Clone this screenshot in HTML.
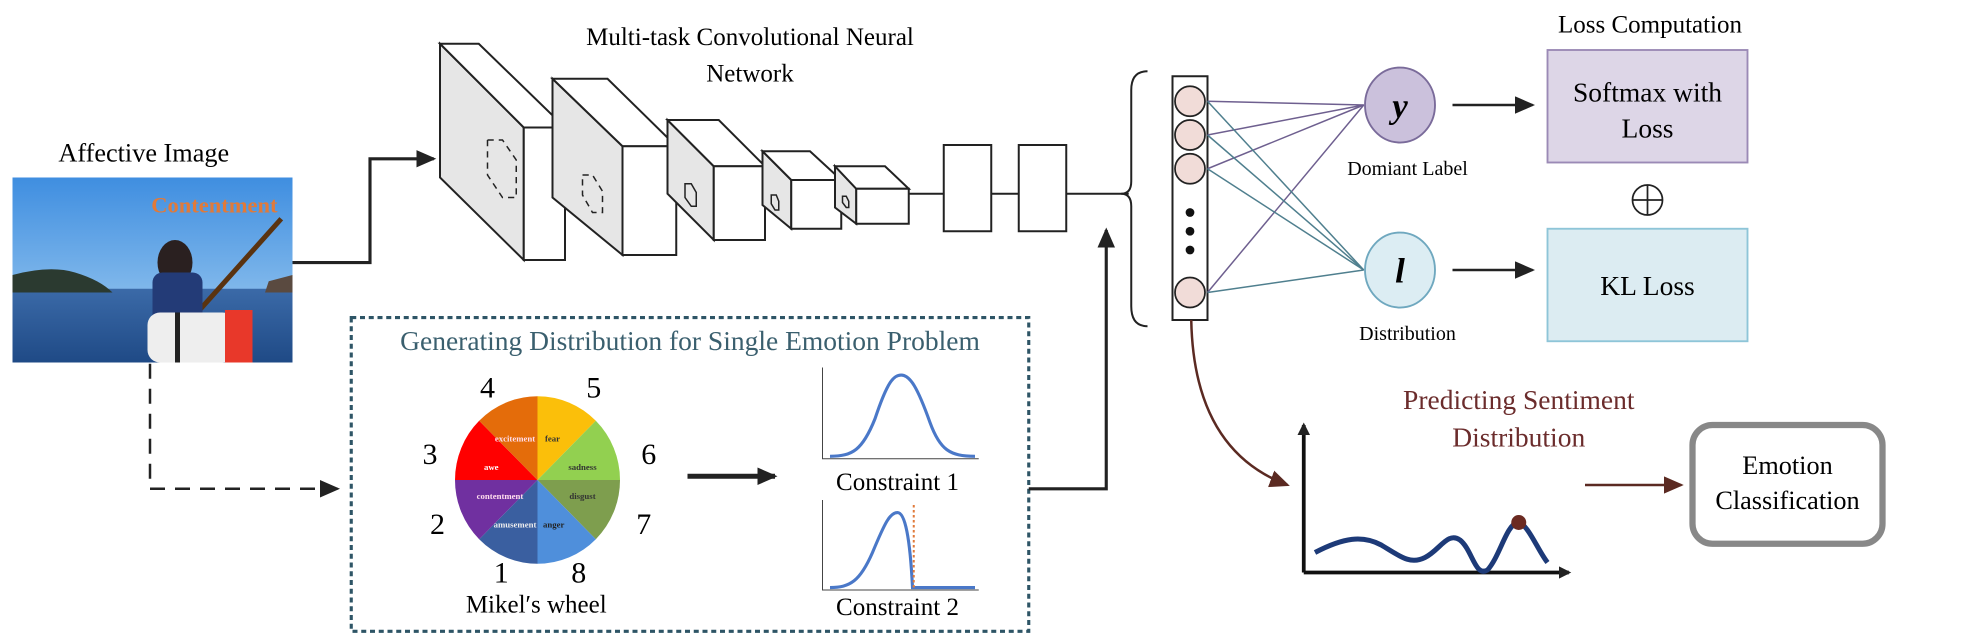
<!DOCTYPE html>
<html><head><meta charset="utf-8"><style>
html,body{margin:0;padding:0;background:#fff;overflow:hidden;}
svg{display:block;}
text{font-family:"Liberation Serif",serif;}
</style></head><body>
<svg width="1976" height="642" viewBox="0 0 1580.8 513.6" xmlns="http://www.w3.org/2000/svg">
<defs>
<marker id="ab" markerWidth="10" markerHeight="10" refX="8" refY="5" orient="auto" markerUnits="userSpaceOnUse"><path d="M0,0 L10,5 L0,10 z" fill="#222"/></marker>
<marker id="abig" markerWidth="16" markerHeight="14" refX="14" refY="7" orient="auto" markerUnits="userSpaceOnUse"><path d="M0,0 L16,7 L0,14 z" fill="#222"/></marker>
<marker id="abr" markerWidth="16" markerHeight="14" refX="14" refY="7" orient="auto" markerUnits="userSpaceOnUse"><path d="M0,0 L16,7 L0,14 z" fill="#5b2a22"/></marker>
<linearGradient id="sky" x1="0" y1="0" x2="0" y2="1"><stop offset="0" stop-color="#3f8ee0"/><stop offset="1" stop-color="#a9d2f2"/></linearGradient>
<linearGradient id="sea" x1="0" y1="0" x2="0" y2="1"><stop offset="0" stop-color="#3b6aa8"/><stop offset="1" stop-color="#1f4a86"/></linearGradient>
</defs>

<text x="115" y="129" font-size="21" text-anchor="middle">Affective Image</text>
<rect x="10" y="142" width="224" height="148" fill="url(#sky)"/>
<rect x="10" y="231" width="224" height="59" fill="url(#sea)"/>
<path d="M10,220 Q40,212 60,218 Q80,224 90,234 L10,234z" fill="#2b3a30"/>
<path d="M215,225 L234,220 L234,234 L212,234z" fill="#5a4a40"/>
<path d="M225,175 L140,270" stroke="#5a3310" stroke-width="4"/>
<ellipse cx="140" cy="210" rx="14" ry="18" fill="#2a2020"/>
<rect x="122" y="218" width="40" height="45" rx="8" fill="#233b77"/>
<rect x="118" y="250" width="70" height="40" rx="10" fill="#eeeeee"/>
<rect x="180" y="248" width="22" height="42" fill="#e8382a"/>
<rect x="140" y="250" width="4" height="40" fill="#222"/>
<text x="222" y="170" font-size="18" font-weight="bold" fill="#e07a3a" text-anchor="end">Contentment</text>

<polyline points="234,210 296,210 296,127 347,127" fill="none" stroke="#222" stroke-width="2.5" marker-end="url(#abig)"/>

<text x="600" y="36" font-size="20" text-anchor="middle">Multi-task Convolutional Neural</text>
<text x="600" y="65" font-size="20" text-anchor="middle">Network</text>

<g stroke="#222" stroke-width="1.6">
<polygon points="352,35 419,102 419,208 352,142" fill="#e6e6e6"/>
<polygon points="352,35 383,35 452,102 419,102" fill="#fff"/>
<rect x="419" y="102" width="33" height="106" fill="#fff"/>
<polygon points="442,63 498,117 498,204 442,158" fill="#e6e6e6"/>
<polygon points="442,63 486,63 541,117 498,117" fill="#fff"/>
<rect x="498" y="117" width="43" height="87" fill="#fff"/>
<polygon points="534,96 571,133 571,192 534,155" fill="#e6e6e6"/>
<polygon points="534,96 575,96 612,133 571,133" fill="#fff"/>
<rect x="571" y="133" width="41" height="59" fill="#fff"/>
<polygon points="610,121 633,144 633,183 610,164" fill="#e6e6e6"/>
<polygon points="610,121 648,121 673,144 633,144" fill="#fff"/>
<rect x="633" y="144" width="40" height="39" fill="#fff"/>
<polygon points="668,133 685,151 685,179 668,166" fill="#e6e6e6"/>
<polygon points="668,133 708,133 727,151 685,151" fill="#fff"/>
<rect x="685" y="151" width="42" height="28" fill="#fff"/>
</g>
<g fill="none" stroke="#222" stroke-width="1.2" stroke-dasharray="5,4">
<polygon points="390,112 402,112 413,128 413,158 402,158 390,140"/>
<polygon points="466,140 474,140 482,153 482,170 474,170 466,156"/>
</g>
<g fill="none" stroke="#222" stroke-width="1.2">
<polygon points="548,147 553,147 557,154 557,165 553,165 548,158"/>
<polygon points="617,156 621,156 623,161 623,168 620,168 617,163"/>
<polygon points="674,157 677,157 679,161 679,166 677,166 674,162"/>
</g>

<g stroke="#222" stroke-width="1.6" fill="#fff">
<line x1="727" y1="155" x2="755" y2="155"/>
<rect x="755" y="116" width="38" height="69"/>
<line x1="793" y1="155" x2="815" y2="155"/>
<rect x="815" y="116" width="38" height="69"/>
<line x1="853" y1="155" x2="903" y2="155"/>
</g>
<path d="M918,57 Q905,57 905,72 L905,145 Q905,155 897,155 Q905,155 905,165 L905,245 Q905,261 918,261" fill="none" stroke="#222" stroke-width="1.6"/>

<rect x="938" y="61" width="28" height="195" fill="#fff" stroke="#222" stroke-width="1.6"/>
<g stroke="#6e5f8f" stroke-width="1.2">
<line x1="966" y1="81" x2="1091" y2="84"/><line x1="966" y1="108" x2="1091" y2="84"/>
<line x1="966" y1="135" x2="1091" y2="84"/><line x1="966" y1="234" x2="1091" y2="84"/>
</g>
<g stroke="#4f7f8e" stroke-width="1.2">
<line x1="966" y1="81" x2="1091" y2="216"/><line x1="966" y1="108" x2="1091" y2="216"/>
<line x1="966" y1="135" x2="1091" y2="216"/><line x1="966" y1="234" x2="1091" y2="216"/>
</g>
<g fill="#f1dcd8" stroke="#222" stroke-width="1.4">
<circle cx="952" cy="81" r="12"/><circle cx="952" cy="108" r="12"/><circle cx="952" cy="135" r="12"/><circle cx="952" cy="234" r="12"/>
</g>
<g fill="#111"><circle cx="952" cy="170" r="3.5"/><circle cx="952" cy="185" r="3.5"/><circle cx="952" cy="200" r="3.5"/></g>

<ellipse cx="1120" cy="84" rx="28" ry="30" fill="#cbc1dc" stroke="#7a6b9a" stroke-width="1.5"/>
<text x="1120" y="94" font-size="28" font-weight="bold" font-style="italic" text-anchor="middle">y</text>
<ellipse cx="1120" cy="216" rx="28" ry="30" fill="#dcedf3" stroke="#6fa8bf" stroke-width="1.5"/>
<text x="1120" y="226" font-size="28" font-weight="bold" font-style="italic" text-anchor="middle">l</text>
<text x="1126" y="140" font-size="16" text-anchor="middle">Domiant Label</text>
<text x="1126" y="272" font-size="16" text-anchor="middle">Distribution</text>

<line x1="1162" y1="84" x2="1226" y2="84" stroke="#222" stroke-width="2" marker-end="url(#abig)"/>
<line x1="1162" y1="216" x2="1226" y2="216" stroke="#222" stroke-width="2" marker-end="url(#abig)"/>

<text x="1320" y="26" font-size="20" text-anchor="middle">Loss Computation</text>
<rect x="1238" y="40" width="160" height="90" fill="#ddd6e7" stroke="#9b8ab6" stroke-width="1.5"/>
<text x="1318" y="81" font-size="22" text-anchor="middle">Softmax with</text>
<text x="1318" y="110" font-size="22" text-anchor="middle">Loss</text>
<circle cx="1318" cy="160" r="12" fill="none" stroke="#222" stroke-width="1.4"/>
<line x1="1306" y1="160" x2="1330" y2="160" stroke="#222" stroke-width="1.4"/>
<line x1="1318" y1="148" x2="1318" y2="172" stroke="#222" stroke-width="1.4"/>
<rect x="1238" y="183" width="160" height="90" fill="#dcecf2" stroke="#8ec5d8" stroke-width="1.5"/>
<text x="1318" y="236" font-size="22" text-anchor="middle">KL Loss</text>

<path d="M953,256 Q955,360 1030,388" fill="none" stroke="#5b2a22" stroke-width="2" marker-end="url(#abr)"/>

<line x1="1043" y1="458" x2="1043" y2="340" stroke="#111" stroke-width="3" marker-end="url(#ab)"/>
<line x1="1043" y1="458" x2="1255" y2="458" stroke="#111" stroke-width="3" marker-end="url(#ab)"/>
<path d="M1052,442 C1075,430 1090,428 1105,436 C1120,445 1128,452 1140,446 C1152,440 1158,425 1168,432 C1178,440 1180,462 1190,456 C1200,445 1205,420 1214,418 C1222,418 1230,440 1238,450" fill="none" stroke="#1d3a78" stroke-width="4"/>
<circle cx="1215" cy="418" r="6" fill="#6b2a22"/>
<text x="1215" y="327" font-size="22" fill="#6b2c2c" text-anchor="middle">Predicting Sentiment</text>
<text x="1215" y="357" font-size="22" fill="#6b2c2c" text-anchor="middle">Distribution</text>
<line x1="1268" y1="388" x2="1345" y2="388" stroke="#5b2a22" stroke-width="2" marker-end="url(#abr)"/>
<rect x="1354" y="340" width="152" height="95" rx="16" fill="#fff" stroke="#888" stroke-width="5"/>
<text x="1430" y="379" font-size="21" text-anchor="middle">Emotion</text>
<text x="1430" y="407" font-size="21" text-anchor="middle">Classification</text>

<polyline points="120,291 120,391 270,391" fill="none" stroke="#222" stroke-width="2" stroke-dasharray="12,8" marker-end="url(#abig)"/>

<rect x="281" y="254" width="542" height="251" fill="none" stroke="#2e5566" stroke-width="2.5" stroke-dasharray="4,3"/>
<text x="552" y="280" font-size="22" fill="#3a5f6e" text-anchor="middle">Generating Distribution for Single Emotion Problem</text>

<g transform="translate(430,384) scale(66,67)">
<path d="M0,0 L0,-1 A1,1 0 0 1 .7071,-.7071z" fill="#fbbf0a"/>
<path d="M0,0 L.7071,-.7071 A1,1 0 0 1 1,0z" fill="#92d050"/>
<path d="M0,0 L1,0 A1,1 0 0 1 .7071,.7071z" fill="#7e9e4e"/>
<path d="M0,0 L.7071,.7071 A1,1 0 0 1 0,1z" fill="#4f8fdb"/>
<path d="M0,0 L0,1 A1,1 0 0 1 -.7071,.7071z" fill="#3a5fa0"/>
<path d="M0,0 L-.7071,.7071 A1,1 0 0 1 -1,0z" fill="#7030a0"/>
<path d="M0,0 L-1,0 A1,1 0 0 1 -.7071,-.7071z" fill="#ff0000"/>
<path d="M0,0 L-.7071,-.7071 A1,1 0 0 1 0,-1z" fill="#e46c0a"/>
</g>
<g font-size="7" font-weight="bold" text-anchor="middle">
<text x="412" y="353" fill="#fde">excitement</text><text x="442" y="353" fill="#333">fear</text>
<text x="393" y="376" fill="#fff">awe</text><text x="466" y="376" fill="#333">sadness</text>
<text x="400" y="399" fill="#fde">contentment</text><text x="466" y="399" fill="#333">disgust</text>
<text x="412" y="422" fill="#eee">amusement</text><text x="443" y="422" fill="#222">anger</text>
</g>
<g font-size="24" text-anchor="middle">
<text x="390" y="318">4</text><text x="475" y="318">5</text>
<text x="344" y="371">3</text><text x="519" y="371">6</text>
<text x="350" y="427">2</text><text x="515" y="427">7</text>
<text x="401" y="466">1</text><text x="463" y="466">8</text>
</g>
<text x="429" y="490" font-size="20" text-anchor="middle">Mikel′s wheel</text>

<line x1="550" y1="381" x2="620" y2="381" stroke="#222" stroke-width="4" marker-end="url(#abig)"/>

<g stroke="#444" stroke-width="0.8" fill="none">
<polyline points="658,294 658,367 783,367"/>
<polyline points="658,400 658,472 783,472"/>
</g>
<path d="M664,365 C682,365 690,360 700,335 C710,305 715,300 721,300 C728,300 734,310 744,338 C752,360 760,365 780,365" fill="none" stroke="#4a78c8" stroke-width="2.5"/>
<path d="M664,470 C680,470 688,465 698,442 C708,418 712,410 718,410 C724,410 728,430 730,470 L780,470" fill="none" stroke="#4a78c8" stroke-width="2.5"/>
<line x1="731" y1="404" x2="731" y2="472" stroke="#e07a3a" stroke-width="1.6" stroke-dasharray="2,2"/>
<text x="718" y="392" font-size="20" text-anchor="middle">Constraint 1</text>
<text x="718" y="492" font-size="20" text-anchor="middle">Constraint 2</text>

<polyline points="823,391 885,391 885,184" fill="none" stroke="#222" stroke-width="2.5" marker-end="url(#abig)"/>
</svg>
</body></html>
